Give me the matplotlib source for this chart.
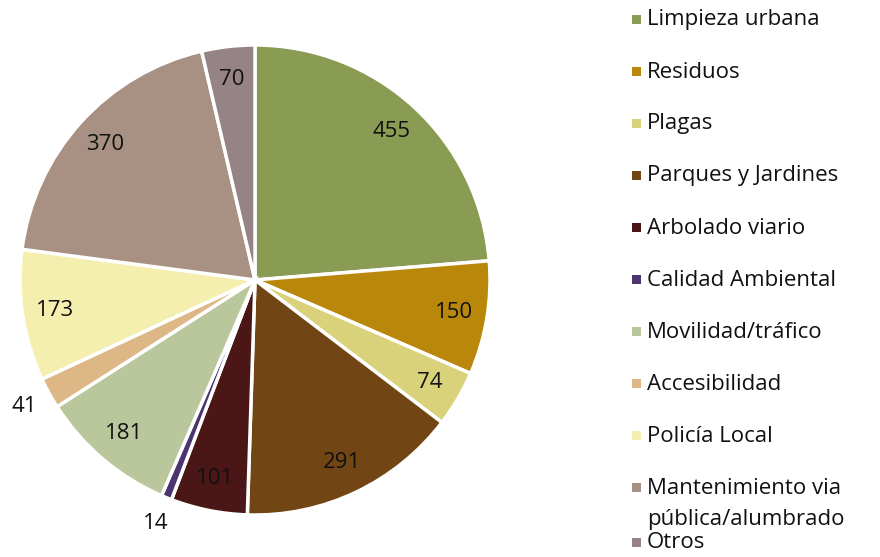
import matplotlib
matplotlib.use("Agg")
import matplotlib.pyplot as plt
import numpy as np
from matplotlib.patches import Rectangle

categories = ["Limpieza urbana", "Residuos", "Plagas", "Parques y Jardines",
              "Arbolado viario", "Calidad Ambiental", "Movilidad/tráfico",
              "Accesibilidad", "Policía Local",
              "Mantenimiento via\npública/alumbrado", "Otros"]
values = [455, 150, 74, 291, 101, 14, 181, 41, 173, 370, 70]
colors = ["#8A9C54", "#B9880A", "#D9D27B", "#724614", "#4A1616", "#4B3570",
          "#BAC79C", "#DDB785", "#F4EFAE", "#A89182", "#958385"]
outside = [False, False, False, False, False, True, False, True, False, False, False]

plt.rcParams['font.family'] = ['Open Sans', 'DejaVu Sans']
FS = 16
W, H = 880, 557
fig = plt.figure(figsize=(W/100, H/100), dpi=100)
cx, cy, r = 255, 280, 235
ax = fig.add_axes([(cx - r)/W, (H - cy - r)/H, 2*r/W, 2*r/H])
wedges, _ = ax.pie(values, colors=colors, startangle=90, counterclock=False,
                   radius=1.0, wedgeprops=dict(edgecolor="white", linewidth=2.5))
ax.set_xlim(-1, 1); ax.set_ylim(-1, 1); ax.set_aspect("equal"); ax.axis("off")

for w, v, out in zip(wedges, values, outside):
    ang = np.deg2rad((w.theta1 + w.theta2) / 2)
    d = 1.12 if out else 0.86
    ax.text(d*np.cos(ang), d*np.sin(ang), str(v), ha="center", va="center",
            fontsize=FS, color="#111111")

# legend drawn manually
ys = [20 + 52*i for i in range(10)] + [543]
for i, (lab, col) in enumerate(zip(categories, colors)):
    y = ys[i]
    fig.patches.append(Rectangle((632/W, (H - y - 4)/H), 9/W, 9/H,
                                 transform=fig.transFigure, facecolor=col,
                                 edgecolor="none"))
    if "\n" in lab:
        l1, l2 = lab.split("\n")
        fig.text(647/W, (H - y)/H, l1, ha="left", va="center", fontsize=FS, color="#111111")
        fig.text(647/W, (H - y - 32)/H, l2, ha="left", va="center", fontsize=FS, color="#111111")
    else:
        fig.text(647/W, (H - y)/H, lab, ha="left", va="center", fontsize=FS, color="#111111")

fig.savefig("out.png", dpi=100)
